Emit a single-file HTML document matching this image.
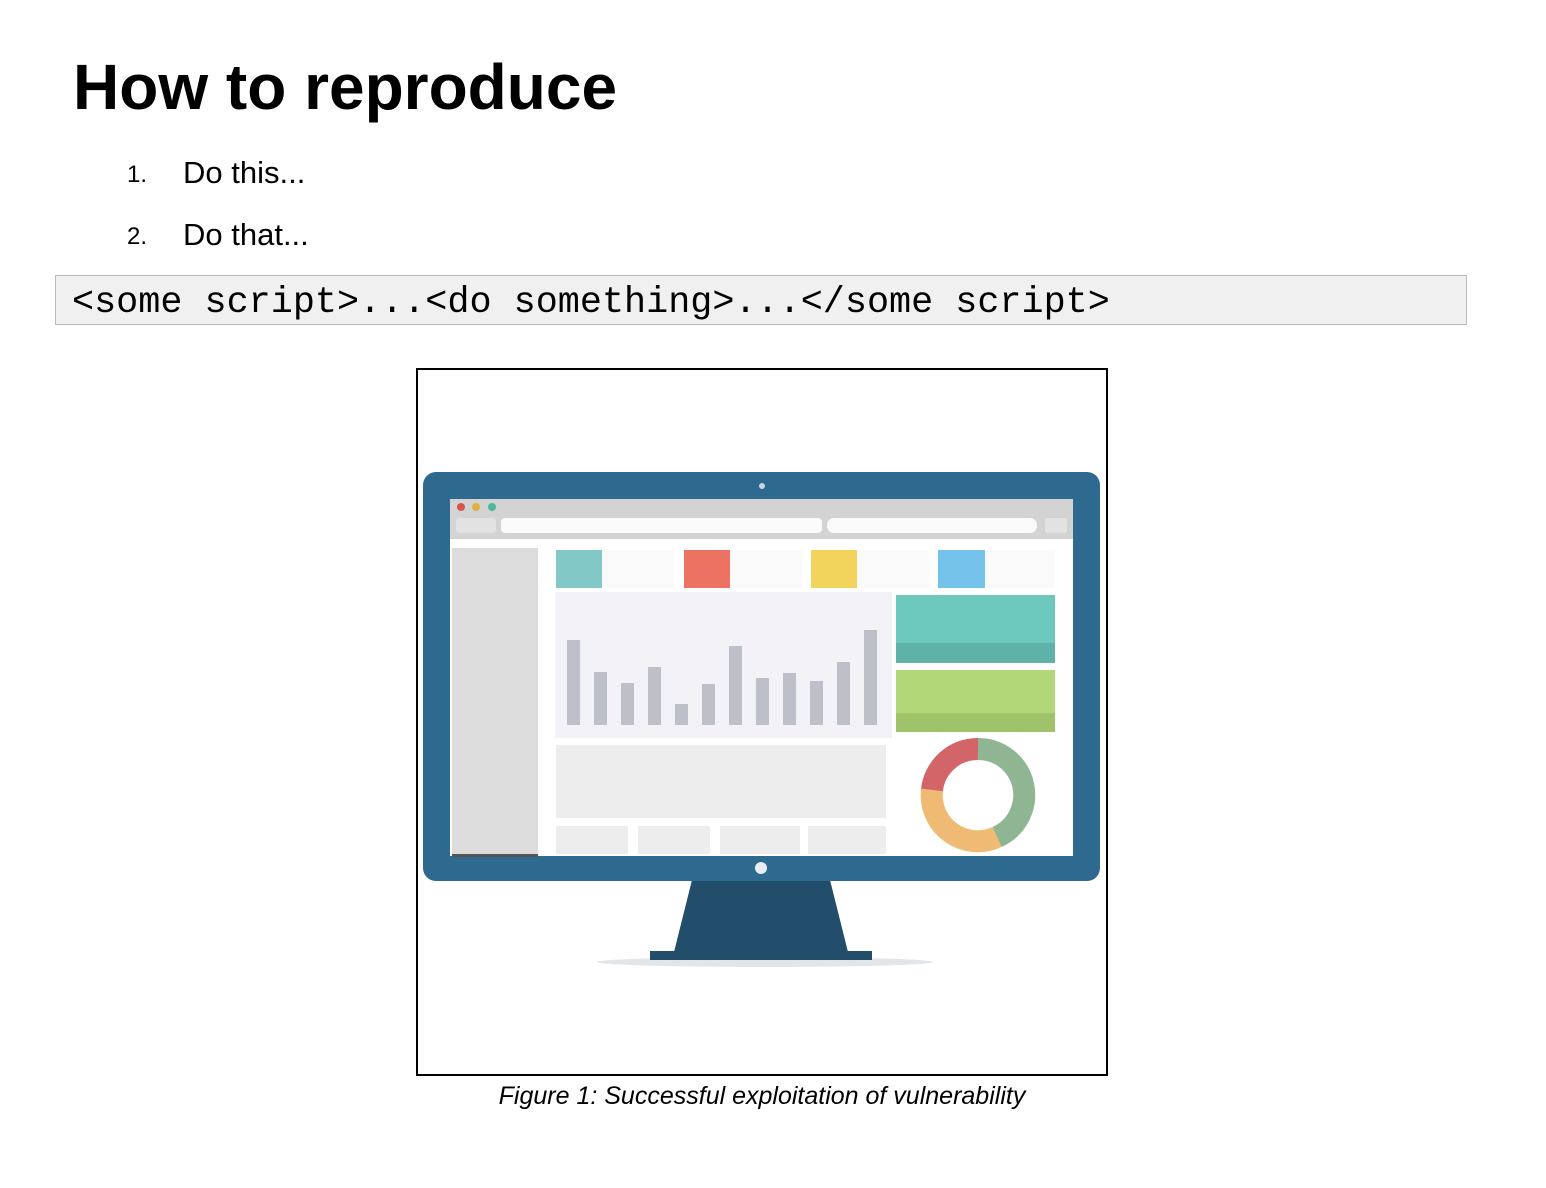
<!DOCTYPE html>
<html><head><meta charset="utf-8"><style>
body{margin:0;width:1546px;height:1188px;background:#fff;position:relative;overflow:hidden;font-family:"Liberation Sans",sans-serif;}
.a{position:absolute;white-space:nowrap;}
</style></head><body>
<div class="a" style="left:73px;top:50px;font-size:64px;font-weight:bold;color:#000;letter-spacing:0px">How to reproduce</div>
<div class="a" style="left:127px;top:161px;font-size:24px">1.</div>
<div class="a" style="left:183px;top:155px;font-size:31px">Do this...</div>
<div class="a" style="left:127px;top:223px;font-size:24px">2.</div>
<div class="a" style="left:183px;top:217px;font-size:31px">Do that...</div>
<div class="a" style="left:55px;top:275px;width:1410px;height:48px;background:#f0f0f0;border:1px solid #bbb"></div>
<div class="a" style="left:72px;top:282px;font-family:'Liberation Mono',monospace;font-size:36.8px;color:#000">&lt;some script&gt;...&lt;do something&gt;...&lt;/some script&gt;</div>
<svg class="a" style="left:0;top:0" width="1546" height="1188">
<rect x="417" y="369" width="690" height="706" fill="#fff" stroke="#000" stroke-width="2"/>
<ellipse cx="765" cy="962" rx="168" ry="5" fill="#e2e6ea"/>
<polygon points="692,880 830,880 848,952 674,952" fill="#224e6c"/>
<rect x="650" y="951" width="222" height="9" fill="#224e6c"/>
<rect x="423" y="472" width="677" height="409" rx="13" fill="#2e6a8f"/>
<circle cx="762" cy="486" r="3" fill="#c9d6df"/>
<circle cx="761" cy="868" r="6" fill="#e8eef2"/>
<rect x="450" y="499" width="623" height="357" fill="#fff"/>
<rect x="450" y="499" width="623" height="40" fill="#d3d3d3"/>
<circle cx="461" cy="507" r="4" fill="#d9534f"/><circle cx="476" cy="507" r="4" fill="#e0b040"/><circle cx="492" cy="507" r="4" fill="#4fb89a"/>
<rect x="456" y="518" width="40" height="15" rx="3" fill="#e2e2e2"/>
<rect x="501" y="518" width="321" height="15" rx="4" fill="#fafafa"/>
<rect x="827" y="518" width="210" height="15" rx="7" fill="#fafafa"/>
<rect x="1045" y="518" width="22" height="15" rx="3" fill="#e2e2e2"/>
<rect x="452" y="548" width="86" height="308" fill="#dcdcdc"/>
<rect x="452" y="854" width="86" height="3" fill="#555"/>
<rect x="556" y="550" width="118" height="38" fill="#fafafa"/><rect x="556" y="550" width="46" height="38" fill="#82c8c7"/>
<rect x="684" y="550" width="118" height="38" fill="#fafafa"/><rect x="684" y="550" width="46" height="38" fill="#ec7263"/>
<rect x="811" y="550" width="118" height="38" fill="#fafafa"/><rect x="811" y="550" width="46" height="38" fill="#f2d35c"/>
<rect x="938" y="550" width="117" height="38" fill="#fafafa"/><rect x="938" y="550" width="47" height="38" fill="#75c3ea"/>
<rect x="555" y="592" width="337" height="146" fill="#f3f3f7"/>
<g fill="#bdbfc9">
<rect x="567" y="640" width="13" height="85"/><rect x="594" y="672" width="13" height="53"/><rect x="621" y="683" width="13" height="42"/><rect x="648" y="667" width="13" height="58"/><rect x="675" y="704" width="13" height="21"/><rect x="702" y="684" width="13" height="41"/><rect x="729" y="646" width="13" height="79"/><rect x="756" y="678" width="13" height="47"/><rect x="783" y="673" width="13" height="52"/><rect x="810" y="681" width="13" height="44"/><rect x="837" y="662" width="13" height="63"/><rect x="864" y="630" width="13" height="95"/>
</g>
<rect x="896" y="595" width="159" height="68" fill="#6dc8bd"/><rect x="896" y="643" width="159" height="20" fill="#5fb2a8"/>
<rect x="896" y="670" width="159" height="62" fill="#b1d778"/><rect x="896" y="713" width="159" height="19" fill="#a0c26b"/>
<rect x="556" y="745" width="330" height="73" fill="#ededed"/>
<rect x="556" y="826" width="72" height="28" fill="#ededed"/><rect x="638" y="826" width="72" height="28" fill="#ededed"/><rect x="720" y="826" width="80" height="28" fill="#ededed"/><rect x="808" y="826" width="78" height="28" fill="#ededed"/>
<g fill="none" stroke-width="22">
<path d="M978,749 A46,46 0 0 1 997,837" stroke="#8fb592"/>
<path d="M997,837 A46,46 0 0 1 932,790" stroke="#efbb74"/>
<path d="M932,790 A46,46 0 0 1 978,749" stroke="#d36468"/>
</g>
</svg>
<div class="a" style="left:0;width:1524px;text-align:center;top:1082px;font-size:25px;font-style:italic;color:#000">Figure 1: Successful exploitation of vulnerability</div>
</body></html>
